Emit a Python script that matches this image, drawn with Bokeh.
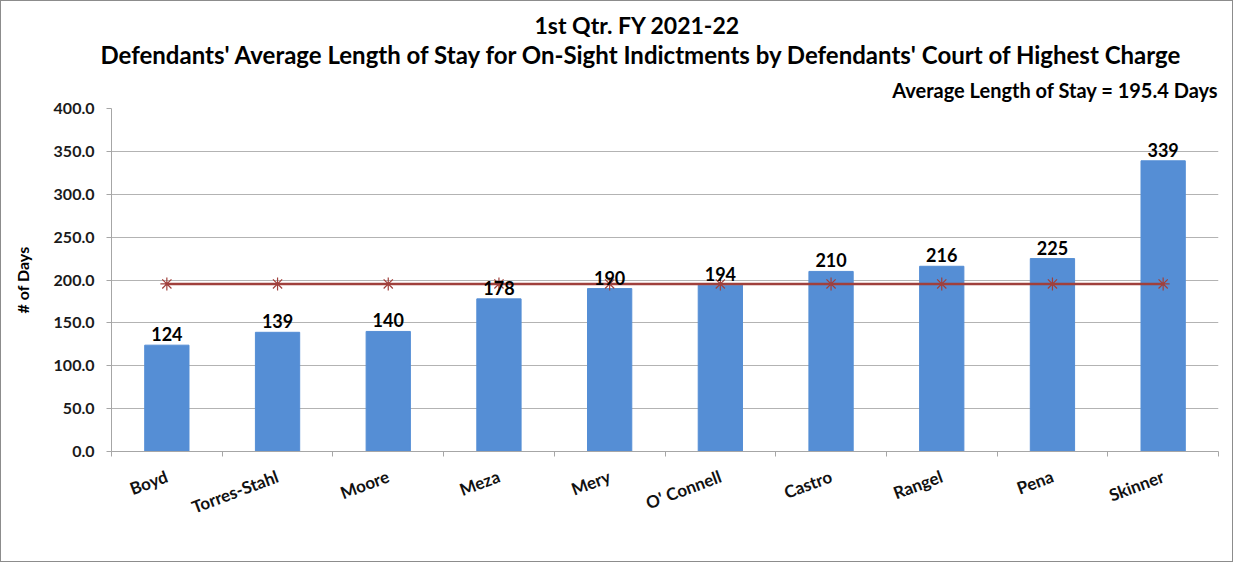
from bokeh.plotting import figure
from bokeh.models import ColumnDataSource, FixedTicker, Title, Range1d, LabelSet
from bokeh.core.properties import value
from bokeh.embed import file_html
from bokeh.resources import INLINE

judges = ["Boyd", "Torres-Stahl", "Moore", "Meza", "Mery", "O' Connell",
          "Castro", "Rangel", "Pena", "Skinner"]
days = [124, 139, 140, 178, 190, 194, 210, 216, 225, 339]
average = 195.4
y_ticks = [0, 50, 100, 150, 200, 250, 300, 350, 400]

xs = list(range(len(judges)))
src = ColumnDataSource(dict(x=xs, days=days, lab=[str(d) for d in days],
                            avg=[average] * len(judges)))

FONT = "Lato"
p = figure(width=1233, height=562, output_backend="svg", toolbar_location=None,
           x_range=Range1d(-0.5, len(judges) - 0.5), y_range=Range1d(0, 400),
           min_border_left=110, min_border_right=16, min_border_bottom=112,
           min_border_top=10)
p.styles = {"border": "1px solid #8c8c8c"}
p.outline_line_color = None
p.background_fill_color = "white"

p.vbar(x="x", top="days", width=0.4, source=src, color="#558ed5")
p.line(x="x", y="avg", source=src, line_color="#a0403c", line_width=2.5)
p.scatter(x="x", y="avg", source=src, marker="asterisk", size=13,
          line_color="#a0403c", line_width=1.2)

labels = LabelSet(x="x", y="days", text="lab", source=src, y_offset=4,
                  text_align="center", text_baseline="bottom",
                  text_font=value(FONT), text_font_style="bold",
                  text_font_size="18px", text_color="black")
p.add_layout(labels)

# y axis
p.yaxis.ticker = FixedTicker(ticks=y_ticks)
p.yaxis.major_label_overrides = {t: f"{t:.1f}" for t in y_ticks}
p.yaxis.axis_label = "# of Days"
p.yaxis.axis_label_text_font = FONT
p.yaxis.axis_label_text_font_style = "bold"
p.yaxis.axis_label_text_font_size = "16px"
p.yaxis.axis_label_text_color = "black"
p.yaxis.axis_label_standoff = 19
p.yaxis.major_label_text_font = FONT
p.yaxis.major_label_text_font_style = "bold"
p.yaxis.major_label_text_font_size = "16px"
p.yaxis.major_label_text_color = "#1a1a1a"
p.yaxis.major_label_standoff = 12
p.yaxis.axis_line_color = "#a6a6a6"
p.yaxis.major_tick_line_color = "#a6a6a6"
p.yaxis.major_tick_in = 0
p.yaxis.major_tick_out = 5
p.yaxis.minor_tick_line_color = None

# x axis
bounds = [i - 0.5 for i in range(len(judges) + 1)]
p.xaxis.ticker = FixedTicker(ticks=xs, minor_ticks=bounds)
p.xaxis.major_label_overrides = {i: n for i, n in enumerate(judges)}
p.xaxis.major_label_orientation = 0.36
p.xaxis.major_label_text_font = FONT
p.xaxis.major_label_text_font_style = "bold"
p.xaxis.major_label_text_font_size = "17px"
p.xaxis.major_label_text_color = "#111111"
p.xaxis.major_tick_line_color = None
p.xaxis.minor_tick_line_color = "#a6a6a6"
p.xaxis.minor_tick_in = 0
p.xaxis.minor_tick_out = 5
p.xaxis.axis_line_color = "#a6a6a6"
p.xaxis.major_label_standoff = 18

p.xgrid.grid_line_color = None
p.ygrid.grid_line_color = "#b3b3b3"
p.ygrid.ticker = FixedTicker(ticks=y_ticks)

p.title = None
p.add_layout(Title(text=f"Average Length of Stay = {average} Days", align="right",
                   text_font=FONT, text_font_style="bold", text_font_size="20px",
                   text_color="black", standoff=14), "above")
p.add_layout(Title(text="Defendants' Average Length of Stay for On-Sight Indictments by Defendants' Court of Highest Charge",
                   align="left", offset=-11, text_font=FONT, text_font_style="bold",
                   text_font_size="24px", text_color="black", standoff=0), "above")
p.add_layout(Title(text="1st Qtr. FY 2021-22", align="left", offset=423, text_font=FONT,
                   text_font_style="bold", text_font_size="23px",
                   text_color="black", standoff=-3), "above")
p.add_layout(Title(text=" ", text_font=FONT, text_font_size="6px", standoff=0), "above")

open("out.html", "w").write(file_html(p, INLINE))
